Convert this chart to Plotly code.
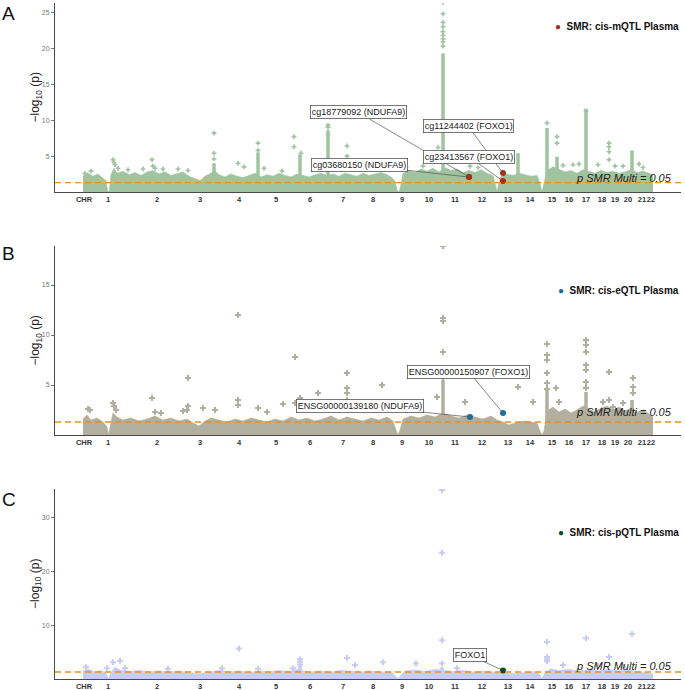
import math
import plotly.graph_objects as go

# ---------------- data ----------------
chrom_labels = ["CHR"] + [str(i) for i in range(1, 23)]
chrom_pos = [1, 25, 74, 117, 156, 193, 227, 260, 290, 319, 346, 372, 399,
             425, 447, 469, 486, 503, 519, 532, 545, 559, 568]
p_threshold = 0.05

# ---- Panel A: cis-mQTL ----
a_env_x = [0, 5, 10, 15, 20, 23, 24.5, 25.5, 26.5, 28, 31, 34, 40, 46, 52, 58, 64, 70, 76, 82, 88, 94,
           100, 106, 112, 117, 122, 128, 131, 136, 142, 148, 154, 160, 166, 172, 178, 184, 190, 196,
           202, 208, 214, 220, 226, 232, 238, 244, 250, 256, 262, 268, 274, 280, 286, 292, 298, 304,
           309, 312, 314, 315.5, 317, 320, 326, 332, 338, 344, 350, 356, 362, 368, 374, 380, 386, 392,
           398, 404, 410, 412.5, 414, 415.5, 418, 424, 430, 436, 442, 448, 454, 457, 459, 461, 464,
           470, 476, 482, 488, 494, 500, 506, 512, 518, 524, 530, 536, 542, 548, 554, 560, 566, 570]
a_env_y = [2.3, 2.6, 2.2, 2.5, 1.9, 1.6, 0.2, 0.0, 0.3, 2.4, 3.3, 2.6, 2.9, 2.4, 2.7, 2.3, 2.8, 3.0, 2.5,
           2.8, 2.3, 2.6, 2.8, 2.2, 1.9, 1.6, 2.2, 2.6, 3.0, 2.4, 2.1, 2.5, 2.2, 2.0, 2.3, 2.6, 2.1, 2.4,
           2.2, 2.6, 2.3, 2.1, 2.5, 2.3, 2.1, 2.4, 2.6, 2.3, 2.5, 2.2, 2.6, 2.4, 2.2, 2.6, 2.3, 2.5, 2.7,
           2.4, 2.0, 1.5, 0.3, 0.0, 0.4, 2.6, 3.0, 2.7, 3.2, 2.9, 3.3, 2.8, 3.4, 3.0, 3.2, 2.7, 3.0, 2.7,
           3.1, 2.6, 2.3, 1.0, 0.0, 1.0, 2.2, 2.5, 2.3, 2.6, 2.4, 2.2, 2.3, 1.2, 0.0, 1.2, 3.0, 3.5, 3.2,
           2.8, 3.0, 2.6, 3.1, 2.8, 2.6, 3.0, 2.7, 2.9, 2.6, 2.8, 3.1, 2.7, 2.9, 2.6, 2.4]
a_col_x = [131, 175, 217, 245, 360, 435, 464, 474, 503, 549]
a_col_top = [4.0, 5.5, 5.2, 8.6, 19.3, 5.4, 8.9, 4.9, 11.6, 5.8]
a_pt_x = [2, 8, 30, 31, 32, 35, 45, 60, 69, 70, 72, 80, 95, 105, 131, 131, 131, 155, 161, 175, 175,
          181, 199, 211, 211, 218, 245, 245, 264, 264, 264, 286, 300, 323, 340, 355,
          360, 360, 360, 360, 360, 360, 360, 360, 360, 387, 395, 464, 474, 474, 490, 503, 526, 526,
          526, 526, 515, 540, 556, 480, 496, 532, 560]
a_pt_y = [2.6, 2.9, 4.5, 4.1, 3.8, 3.3, 3.1, 3.2, 4.5, 3.6, 3.3, 3.2, 3.2, 3.0, 8.2, 5.4, 4.6, 4.0, 3.5,
          6.8, 5.8, 3.3, 2.9, 7.7, 6.3, 5.4, 9.3, 9.0, 6.4, 5.0, 3.8, 3.2, 3.4, 3.5, 3.6, 6.2,
          26.4, 24.8, 23.6, 23.0, 22.3, 21.8, 21.3, 20.9, 20.3, 3.6, 3.4, 9.6, 7.7, 6.8, 3.8, 11.2, 6.8,
          6.3, 5.6, 4.5, 3.8, 3.6, 3.9, 3.7, 3.9, 3.6, 3.4]
a_smr_x = [386, 386, 420, 420]
a_smr_y = [2.08, 2.10, 2.64, 1.53]
a_smr_lab = ["cg03680150 (NDUFA9)", "cg18779092 (NDUFA9)", "cg11244402 (FOXO1)", "cg23413567 (FOXO1)"]

# ---- Panel B: cis-eQTL ----
b_env_x = [0, 4, 8, 14, 20, 24, 25.5, 27, 30, 34, 40, 48, 56, 64, 72, 80, 88, 96, 104, 110, 116, 122,
           128, 136, 144, 152, 160, 168, 176, 184, 192, 200, 208, 216, 224, 232, 240, 248, 256, 264,
           272, 280, 288, 296, 304, 310, 313, 315, 317, 320, 328, 336, 344, 352, 360, 368, 376, 384,
           392, 400, 408, 414, 420, 426, 432, 440, 448, 454, 457, 459, 461, 464, 470, 476, 482, 488,
           494, 500, 506, 512, 518, 524, 530, 536, 542, 548, 554, 560, 566, 570]
b_env_y = [1.6, 2.0, 1.5, 1.7, 1.3, 0.8, 0.0, 0.8, 2.2, 1.8, 1.5, 1.7, 1.4, 1.6, 1.9, 1.5, 1.7, 1.4, 1.6,
           1.2, 0.9, 1.4, 1.7, 1.5, 1.3, 1.6, 1.4, 1.7, 1.5, 1.3, 1.6, 1.4, 1.8, 1.5, 1.7, 1.4, 1.6, 1.9,
           1.5, 1.8, 1.6, 1.4, 1.7, 1.5, 1.8, 1.4, 0.5, 0.0, 0.5, 1.6, 1.9, 1.7, 2.0, 1.8, 2.2, 1.9, 1.7,
           2.0, 1.8, 1.6, 1.9, 1.5, 1.3, 1.0, 1.2, 1.4, 1.3, 1.2, 0.4, 0.0, 0.4, 2.4, 2.8, 2.3, 2.6, 2.2,
           2.5, 2.9, 2.6, 2.3, 2.7, 2.9, 2.5, 2.8, 2.4, 2.7, 2.3, 2.5, 2.1, 1.8]
b_col_x = [360, 464, 503, 549]
b_col_top = [5.5, 4.5, 4.3, 3.5]
b_pt_x = [5, 7, 30, 31, 33, 69, 72, 78, 100, 105, 105, 104, 120, 132, 155, 155, 155, 175, 184, 200,
          212, 212, 217, 235, 264, 264, 264, 264, 299, 326, 354, 360, 360, 360, 360, 360, 360, 360,
          382, 435, 450, 464, 464, 464, 464, 464, 464, 473, 476, 503, 503, 503, 503, 503, 503, 503,
          526, 526, 550, 550, 550, 540, 520, 530]
b_pt_y = [2.6, 2.5, 3.2, 2.9, 2.5, 3.7, 2.3, 2.2, 2.4, 5.7, 2.9, 2.5, 2.7, 2.5, 12.0, 3.5, 3.0, 2.7, 2.3,
          3.1, 7.8, 3.2, 3.7, 4.2, 6.2, 4.7, 4.2, 3.5, 5.0, 2.8, 3.8, 18.9, 11.7, 11.4, 8.3, 6.7, 6.2,
          5.8, 3.3, 4.8, 3.3, 9.1, 8.0, 7.5, 6.2, 5.2, 4.6, 4.7, 3.3, 9.5, 9.0, 8.3, 7.0, 6.5, 5.3, 4.7,
          6.3, 3.5, 5.7, 4.8, 4.2, 3.2, 3.3, 2.8]
b_smr_x = [387, 420]
b_smr_y = [1.8, 2.2]
b_smr_lab = ["ENSG00000139180 (NDUFA9)", "ENSG00000150907 (FOXO1)"]

# ---- Panel C: cis-pQTL ----
c_env_x = [0, 6, 12, 18, 23, 25.5, 28, 32, 38, 46, 56, 66, 76, 86, 96, 106, 116, 126, 136, 146, 156,
           166, 176, 186, 196, 206, 214, 220, 228, 238, 248, 258, 268, 278, 288, 298, 308, 313, 315,
           317, 322, 332, 342, 352, 360, 370, 380, 390, 400, 410, 420, 430, 440, 450, 456, 459, 462,
           468, 476, 486, 496, 506, 516, 526, 536, 546, 556, 566, 570]
c_env_y = [1.5, 1.8, 1.3, 1.6, 1.1, 0.0, 1.2, 2.2, 1.6, 1.4, 1.6, 1.3, 1.5, 1.3, 1.5, 1.2, 1.0, 1.3, 1.6,
           1.3, 1.5, 1.2, 1.5, 1.3, 1.6, 1.4, 1.8, 1.5, 1.3, 1.5, 1.3, 1.6, 1.4, 1.3, 1.5, 1.3, 1.4, 0.5,
           0.0, 0.5, 1.5, 1.7, 1.4, 1.8, 1.6, 1.4, 1.6, 1.3, 1.5, 1.3, 1.2, 1.0, 1.2, 1.4, 1.0, 0.0, 1.2,
           1.9, 1.6, 1.8, 1.5, 1.7, 1.5, 1.8, 1.5, 1.7, 1.4, 1.2, 1.0]
c_col_x = [217, 359]
c_col_top = [2.8, 2.2]
c_pt_x = [3, 24, 30, 37, 42, 85, 139, 156, 175, 210, 217, 217, 217, 264, 272, 300, 333, 359, 359, 359,
          359, 374, 464, 464, 464, 464, 480, 503, 526, 549, 540, 515]
c_pt_y = [2.2, 2.0, 3.1, 3.4, 2.0, 1.9, 2.0, 5.7, 1.9, 2.0, 3.7, 3.2, 2.7, 3.9, 2.6, 3.1, 2.9, 35.2, 23.5,
          7.2, 2.9, 2.0, 6.9, 4.1, 3.7, 3.3, 2.6, 7.6, 4.1, 8.4, 2.3, 2.4]
c_smr_x = [420]
c_smr_y = [1.6]
c_smr_lab = ["FOXO1"]

# ---------------- styling ----------------
FONT = "Liberation Sans, Arial, sans-serif"
panels = [
    dict(env=(a_env_x, a_env_y), col=(a_col_x, a_col_top), pts=(a_pt_x, a_pt_y),
         smr=(a_smr_x, a_smr_y, a_smr_lab), color="#A0C3A0", hl="#A2321D", msize=4,
         legend="SMR: cis-mQTL Plasma", yrange=[0, 26.3], ticks=[5, 10, 15, 20, 25],
         dom=[0.7204, 1.0], letter="A", thr_y=1.95, leg_y=0.9645, let_y=0.9845,
         offs=[(-110, -12), (-111, -64.5), (-35, -47), (-34.5, -24.5)]),
    dict(env=(b_env_x, b_env_y), col=(b_col_x, b_col_top), pts=(b_pt_x, b_pt_y),
         smr=(b_smr_x, b_smr_y, b_smr_lab), color="#B1AF9F", hl="#1C6E9C", msize=5,
         legend="SMR: cis-eQTL Plasma", yrange=[0, 18.9], ticks=[5, 10, 15],
         dom=[0.3609, 0.6405], letter="B", thr_y=2.3, leg_y=0.574, let_y=0.6287,
         offs=[(-110, -11.5), (-34.5, -41.5)]),
    dict(env=(c_env_x, c_env_y), col=(c_col_x, c_col_top), pts=(c_pt_x, c_pt_y),
         smr=(c_smr_x, c_smr_y, c_smr_lab), color="#C6CCF4", hl="#0D4A2A", msize=5,
         legend="SMR: cis-pQTL Plasma", yrange=[0, 35.4], ticks=[10, 20, 30],
         dom=[0.0, 0.2811], letter="C", thr_y=2.4, leg_y=0.216, let_y=0.2648,
         offs=[(-33.5, -15.3)]),
]

thr = -math.log10(p_threshold)

fig = go.Figure()
annotations = []
shapes = []
layout_axes = {}

for i, p in enumerate(panels, start=1):
    xa = "x" if i == 1 else f"x{i}"
    ya = "y" if i == 1 else f"y{i}"
    fig.add_trace(go.Scatter(x=p["env"][0], y=p["env"][1], mode="lines", fill="tozeroy",
                             line=dict(width=0.6, color=p["color"]), fillcolor=p["color"],
                             xaxis=xa, yaxis=ya, hoverinfo="skip", showlegend=False))
    fig.add_trace(go.Bar(x=p["col"][0], y=p["col"][1], width=3.5,
                         marker=dict(color=p["color"], line=dict(width=0)),
                         xaxis=xa, yaxis=ya, hoverinfo="skip", showlegend=False))
    fig.add_trace(go.Scatter(x=p["pts"][0], y=p["pts"][1], mode="markers",
                             marker=dict(symbol="cross", size=p["msize"], color=p["color"],
                                         line=dict(width=0)),
                             xaxis=xa, yaxis=ya, hoverinfo="skip", showlegend=False))
    fig.add_trace(go.Scatter(x=p["smr"][0], y=p["smr"][1], mode="markers",
                             marker=dict(symbol="circle", size=6, color=p["hl"], line=dict(width=0)),
                             xaxis=xa, yaxis=ya, hoverinfo="skip", showlegend=False))

    key = "" if i == 1 else str(i)
    layout_axes["xaxis" + key] = dict(
        domain=[0, 1], anchor=ya, range=[-28, 598], tickmode="array", automargin=False,
        tickvals=chrom_pos, ticktext=chrom_labels, tickangle=0, showline=True, linecolor="#4a4a4a",
        linewidth=1.1, ticks="", showgrid=False,
        zeroline=False, tickfont=dict(family=FONT, size=7.5, color="#333", weight="bold"))
    layout_axes["yaxis" + key] = dict(
        domain=p["dom"], anchor=xa, range=p["yrange"], tickmode="array", tickvals=p["ticks"],
        automargin=False, showline=True, linecolor="#4a4a4a", linewidth=1.1, ticks="outside",
        ticklen=3, tickcolor="#777", showgrid=False, zeroline=False,
        tickfont=dict(family=FONT, size=7, color="#777"))

    shapes.append(dict(type="line", xref=f"{xa} domain", yref=ya, x0=0, x1=1, y0=thr, y1=thr,
                       line=dict(color="#E8911C", width=1.3, dash="6px,4px"), layer="above"))
    annotations.append(dict(xref=xa, yref=ya, x=541, y=p["thr_y"], text="<i>p SMR Multi = 0.05</i>",
                            showarrow=False, font=dict(family=FONT, size=11, color="#222"),
                            xanchor="center", yanchor="middle"))
    for (sx, sy, lab), (ax, ay) in zip(zip(*p["smr"]), p["offs"]):
        annotations.append(dict(xref=xa, yref=ya, x=sx, y=sy, text=lab, showarrow=True,
                                arrowhead=0, arrowwidth=0.7, arrowcolor="#555", ax=ax, ay=ay,
                                standoff=2, bgcolor="white", bordercolor="#555", borderwidth=0.8,
                                borderpad=1, font=dict(family=FONT, size=9, color="#222")))
    top, bot = p["dom"][1], p["dom"][0]
    annotations.append(dict(xref="paper", yref="paper", x=1.0, y=p["leg_y"],
                            text=f"<span style='color:{p['hl']}'>●</span>&nbsp;&nbsp;<b>{p['legend']}</b>",
                            showarrow=False, xanchor="right", yanchor="middle",
                            font=dict(family=FONT, size=10, color="#111")))
    annotations.append(dict(xref="paper", yref="paper", x=-0.074, y=p["let_y"], text=p["letter"],
                            showarrow=False, xanchor="center", yanchor="middle",
                            font=dict(family=FONT, size=19, color="#111")))
    annotations.append(dict(xref="paper", yref="paper", x=-0.0304, y=(top + bot) / 2,
                            text="−log<sub>10</sub> (p)", textangle=-90, showarrow=False,
                            xanchor="center", yanchor="middle",
                            font=dict(family=FONT, size=12, color="#222")))

fig.update_layout(
    width=685, height=690, margin=dict(l=55, r=4, t=3, b=11, autoexpand=False),
    paper_bgcolor="white", plot_bgcolor="white", showlegend=False,
    barmode="overlay", annotations=annotations, shapes=shapes,
    font=dict(family=FONT), **layout_axes)

fig.write_html("out.html", config={"displayModeBar": False},
               post_script="document.body.style.margin='0';document.body.style.padding='0';")
